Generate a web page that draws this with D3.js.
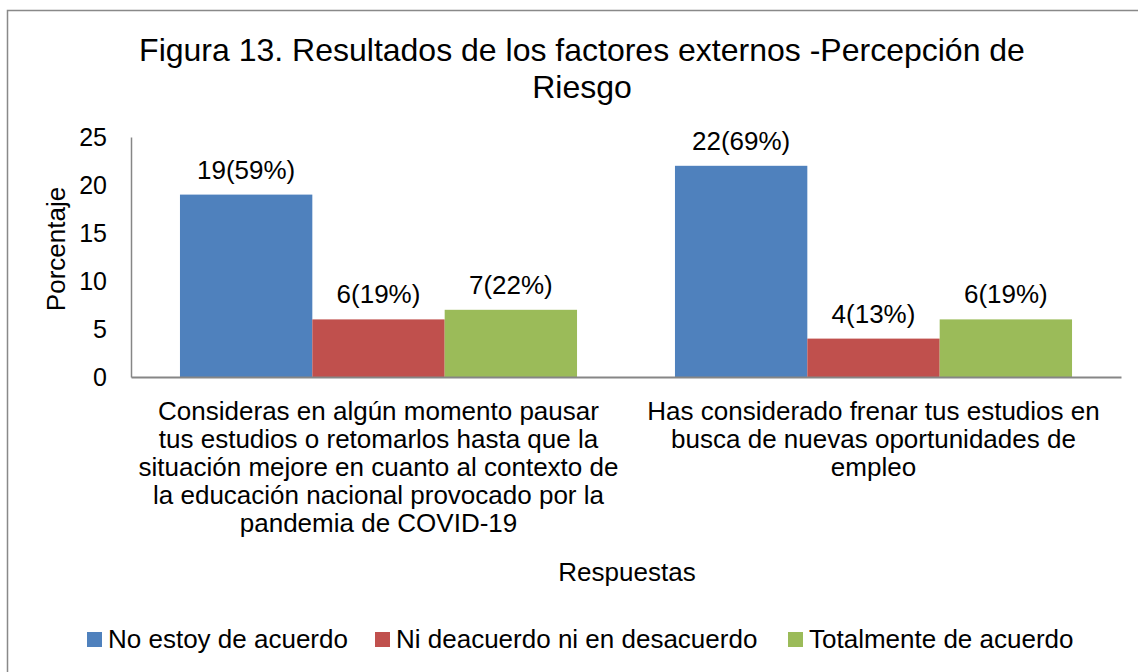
<!DOCTYPE html>
<html>
<head>
<meta charset="utf-8">
<script src="https://cdn.jsdelivr.net/npm/d3@7"></script>
<style>
  html, body { margin: 0; padding: 0; background: #fff; }
  svg { display: block; font-family: "Liberation Sans", Arial, sans-serif; }
</style>
</head>
<body>
<svg id="chart" width="1138" height="672"></svg>
<script>
const categories = [
  "Consideras en algún momento pausar tus estudios o retomarlos hasta que la situación mejore en cuanto al contexto de la educación nacional provocado por la pandemia de COVID-19",
  "Has considerado frenar tus estudios en busca de nuevas oportunidades de empleo"
];
const categoryLines = [
  ["Consideras en algún momento pausar", "tus estudios o retomarlos hasta que la", "situación mejore en cuanto al contexto de", "la educación nacional provocado por la", "pandemia de COVID-19"],
  ["Has considerado frenar tus estudios en", "busca de nuevas oportunidades de", "empleo"]
];
const seriesNames = ["No estoy de acuerdo", "Ni deacuerdo ni en desacuerdo", "Totalmente de acuerdo"];
const seriesColors = ["#4F81BD", "#C0504D", "#9BBB59"];
const noEstoy = [19, 22];
const niDeacuerdo = [6, 4];
const totalmente = [7, 6];
const labelsNoEstoy = ["19(59%)", "22(69%)"];
const labelsNiDeacuerdo = ["6(19%)", "4(13%)"];
const labelsTotalmente = ["7(22%)", "6(19%)"];
const yTicks = [0, 5, 10, 15, 20, 25];
const titleLines = ["Figura 13. Resultados de los factores externos -Percepción de", "Riesgo"];
const xTitle = "Respuestas";
const yTitle = "Porcentaje";

const seriesValues = [noEstoy, niDeacuerdo, totalmente];
const seriesLabels = [labelsNoEstoy, labelsNiDeacuerdo, labelsTotalmente];

const svg = d3.select("#chart");
const FS = 26;

// outer frame
svg.append("rect")
  .attr("x", 7.5).attr("y", 10.5)
  .attr("width", 1200).attr("height", 800)
  .attr("fill", "#fff").attr("stroke", "#898989").attr("stroke-width", 1.5);

const plot = { left: 131, right: 1121, top: 137, bottom: 377 };

const x0 = d3.scaleBand().domain(d3.range(categories.length))
  .range([plot.left, plot.right]).paddingInner(0).paddingOuter(0);
const x1 = d3.scaleBand().domain(d3.range(seriesNames.length))
  .range([0, x0.bandwidth()]).paddingOuter(0.37).paddingInner(0);
const y = d3.scaleLinear().domain([0, 25]).range([plot.bottom, plot.top]);

// title
svg.append("text")
  .attr("text-anchor", "middle")
  .attr("font-size", 32).attr("fill", "#000")
  .selectAll("tspan").data(titleLines).join("tspan")
  .attr("x", 582).attr("y", (d, i) => 61 + i * 37)
  .text(d => d);

// bars
const groups = svg.append("g").selectAll("g")
  .data(categories.map((c, i) => i)).join("g")
  .attr("transform", i => `translate(${x0(i)},0)`);

const barData = ci => seriesValues.map((vals, si) => ({ si, v: vals[ci], label: seriesLabels[si][ci] }));

groups.selectAll("rect")
  .data(barData)
  .join("rect")
  .attr("x", d => x1(d.si))
  .attr("width", x1.bandwidth())
  .attr("y", d => y(d.v))
  .attr("height", d => y(0) - y(d.v))
  .attr("fill", d => seriesColors[d.si]);

groups.selectAll("text.lbl")
  .data(barData)
  .join("text").attr("class", "lbl")
  .attr("x", d => x1(d.si) + x1.bandwidth() / 2)
  .attr("y", d => y(d.v) - 16)
  .attr("text-anchor", "middle")
  .attr("font-size", FS).attr("fill", "#000")
  .text(d => d.label);

// y axis
const yAxis = d3.axisLeft(y).tickValues(yTicks).tickSize(0).tickPadding(24);
const gy = svg.append("g").attr("transform", `translate(${plot.left},0)`).call(yAxis);
gy.select(".domain").attr("stroke", "#868686").attr("stroke-width", 1.5);
gy.selectAll("text").attr("font-size", 25).attr("fill", "#000")
  .attr("font-family", "Liberation Sans, Arial, sans-serif");

// x axis
const xAxis = d3.axisBottom(x0).tickSize(0).tickFormat(() => "");
const gx = svg.append("g").attr("transform", `translate(0,${plot.bottom})`).call(xAxis);
gx.select(".domain").attr("stroke", "#868686").attr("stroke-width", 2);

// category labels
svg.append("g").selectAll("text")
  .data(categoryLines).join("text")
  .attr("text-anchor", "middle")
  .attr("font-size", FS).attr("fill", "#000")
  .each(function (lines, i) {
    const cx = x0(i) + x0.bandwidth() / 2;
    d3.select(this).selectAll("tspan").data(lines).join("tspan")
      .attr("x", cx).attr("y", (d, j) => 420 + j * 28)
      .text(d => d);
  });

// axis titles
svg.append("text")
  .attr("x", 627).attr("y", 581)
  .attr("text-anchor", "middle").attr("font-size", FS).attr("fill", "#000")
  .text(xTitle);
svg.append("text")
  .attr("transform", "translate(65,249) rotate(-90)")
  .attr("text-anchor", "middle").attr("font-size", FS).attr("fill", "#000")
  .text(yTitle);

// legend
const legendX = [87, 375, 788];
const leg = svg.append("g").selectAll("g").data(seriesNames).join("g")
  .attr("transform", (d, i) => `translate(${legendX[i]},632)`);
leg.append("rect").attr("width", 15).attr("height", 15)
  .attr("fill", (d, i) => seriesColors[i]);
leg.append("text").attr("x", 21).attr("y", 16)
  .attr("font-size", FS).attr("fill", "#000")
  .text(d => d);
</script>
</body>
</html>
